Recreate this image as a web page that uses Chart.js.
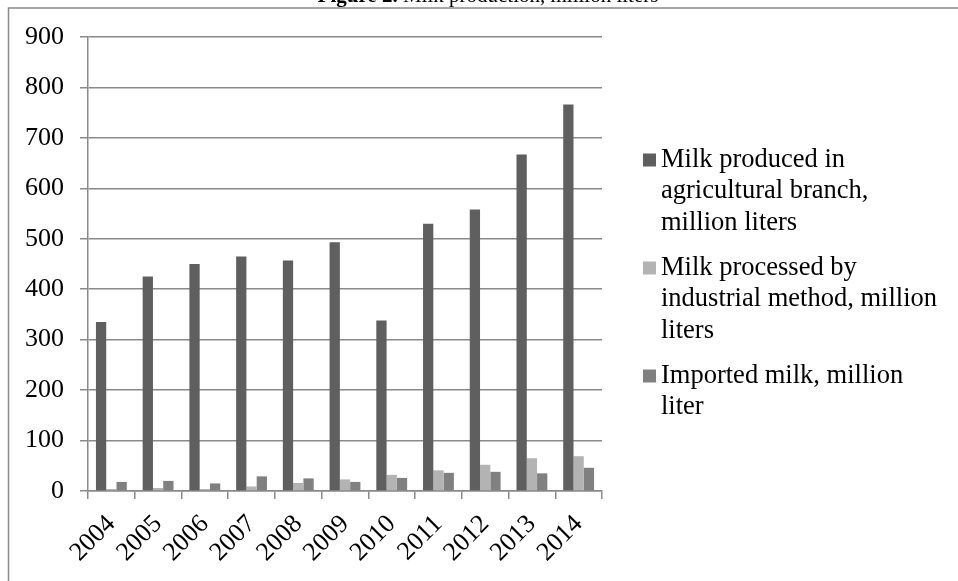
<!DOCTYPE html>
<html>
<head>
<meta charset="utf-8">
<script src="https://cdn.jsdelivr.net/npm/chart.js@4.4.0/dist/chart.umd.min.js"></script>
<style>
  html, body { margin: 0; padding: 0; background: #fff; }
  #wrap { width: 958px; height: 581px; position: relative; }
</style>
</head>
<body>
<div id="wrap"><canvas id="c" width="958" height="581"></canvas></div>
<script>
// Years on the category axis
const years = ['2004', '2005', '2006', '2007', '2008', '2009', '2010', '2011', '2012', '2013', '2014'];

// Million liters per year
const agricultural = [335, 425, 450, 465, 457, 493, 338, 530, 558, 667, 766];
const industrial   = [4, 6, 4, 9, 16, 23, 32, 41, 52, 65, 69];
const imported     = [18, 20, 15, 29, 25, 18, 26, 36, 38, 35, 46];

// Value axis
const yMin = 0;
const yMax = 900;
const yStep = 100;

// Legend text, already broken into lines
const legendLines = [
  ['Milk produced in', 'agricultural branch,', 'million liters'],
  ['Milk processed by', 'industrial method, million', 'liters'],
  ['Imported milk, million', 'liter']
];

const titleBold = 'Figure 2.';
const titleRest = ' Milk production, million liters';

const colors = ['#5f5f5f', '#b3b3b3', '#808080'];
const serif = '"Liberation Serif", "Times New Roman", serif';
const gridColor = '#8a8a8a';

// Page frame, the clipped caption and the wrapped legend
const decorations = {
  id: 'decorations',
  afterDraw(chart) {
    const ctx = chart.ctx;
    ctx.save();

    // frame lines
    ctx.strokeStyle = gridColor;
    ctx.lineWidth = 1.5;
    ctx.beginPath();
    ctx.moveTo(8.5, 581);
    ctx.lineTo(8.5, 8);
    ctx.lineTo(958, 8);
    ctx.stroke();

    // caption (runs off the top edge)
    ctx.fillStyle = '#000';
    ctx.textBaseline = 'alphabetic';
    ctx.textAlign = 'left';
    ctx.font = 'bold 21px ' + serif;
    const wb = ctx.measureText(titleBold).width;
    ctx.font = '21px ' + serif;
    const wr = ctx.measureText(titleRest).width;
    const tx = 488 - (wb + wr) / 2;
    ctx.font = 'bold 21px ' + serif;
    ctx.fillText(titleBold, tx, 1.5);
    ctx.font = '21px ' + serif;
    ctx.fillText(titleRest, tx + wb, 1.5);

    // legend
    const lineH = 31.5;
    const gap = 13.5;
    const boxX = 643, textX = 661, box = 13;
    let y = 160;
    ctx.font = '26.5px ' + serif;
    ctx.textBaseline = 'middle';
    chart.data.datasets.forEach((ds, i) => {
      ctx.fillStyle = ds.backgroundColor;
      ctx.fillRect(boxX, y - box / 2, box, box);
      ctx.fillStyle = '#000';
      legendLines[i].forEach((line, k) => {
        ctx.fillText(line, textX, y + k * lineH);
      });
      y += legendLines[i].length * lineH + gap;
    });

    ctx.restore();
  }
};

new Chart(document.getElementById('c'), {
  type: 'bar',
  data: {
    labels: years,
    datasets: [
      { label: legendLines[0].join(' '), data: agricultural, backgroundColor: colors[0] },
      { label: legendLines[1].join(' '), data: industrial, backgroundColor: colors[1] },
      { label: legendLines[2].join(' '), data: imported, backgroundColor: colors[2] }
    ]
  },
  options: {
    responsive: false,
    animation: false,
    devicePixelRatio: 1,
    layout: { padding: { top: 37, right: 356, bottom: 0, left: 0 } },
    datasets: {
      bar: { barPercentage: 1, categoryPercentage: 0.66, borderWidth: 0 }
    },
    plugins: {
      legend: { display: false },
      title: { display: false },
      tooltip: { enabled: false }
    },
    scales: {
      x: {
        offset: true,
        grid: { display: true, drawOnChartArea: false, drawTicks: true, tickLength: 8, color: gridColor, lineWidth: 1.5 },
        border: { color: gridColor, width: 1.5 },
        ticks: {
          autoSkip: false, minRotation: 45, maxRotation: 45,
          color: '#000', padding: 10,
          font: { family: serif, size: 26 }
        },
        afterFit(scale) { scale.height = 90; }
      },
      y: {
        min: yMin, max: yMax,
        grid: { color: gridColor, lineWidth: 1.5, tickLength: 8 },
        border: { color: gridColor, width: 1.5 },
        ticks: {
          stepSize: yStep, color: '#000', padding: 16,
          font: { family: serif, size: 26 }
        },
        afterFit(scale) { scale.width = 88; }
      }
    }
  },
  plugins: [decorations]
});
</script>
</body>
</html>
